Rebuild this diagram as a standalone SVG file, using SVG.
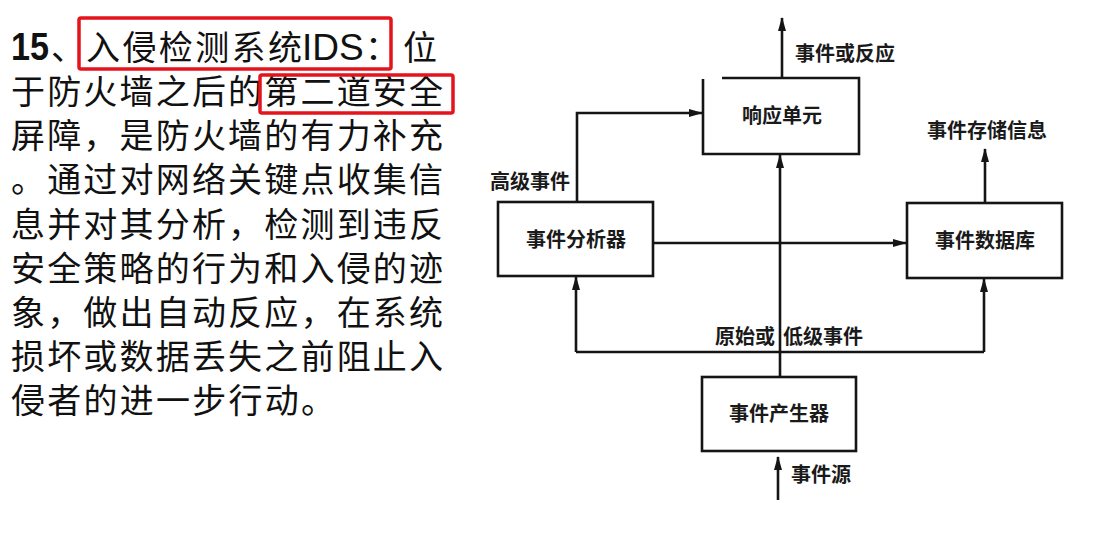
<svg xmlns="http://www.w3.org/2000/svg" width="1099" height="533" viewBox="0 0 1099 533">
<style>
.body{font-family:"Noto Sans CJK SC","Noto Sans",sans-serif;font-size:34px;fill:#111;}
.lat{font-family:"Liberation Sans",Arial,sans-serif;font-size:37px;}
.num{font-family:"Liberation Sans",Arial,sans-serif;font-size:38px;font-weight:bold;}
.lbl{font-family:"Noto Sans CJK SC","Noto Sans",sans-serif;font-size:20px;font-weight:700;fill:#1a1a1a;}
.mid{text-anchor:middle;}
.box{fill:none;stroke:#151515;stroke-width:2.6;}
.ln{fill:none;stroke:#151515;stroke-width:2.6;}
.hl{fill:none;stroke:#e3141c;stroke-width:3.5;}
</style>
<defs>
<marker id="ah" markerUnits="userSpaceOnUse" markerWidth="14" markerHeight="9" refX="13" refY="4.5" orient="auto">
<path d="M0,0.5 L14,4.5 L0,8.5 z" fill="#151515"/>
</marker>
</defs>
<rect width="1099" height="533" fill="#ffffff"/>

<g id="description">
<text class="body" y="60"><tspan x="11" class="num" textLength="38" lengthAdjust="spacingAndGlyphs">15</tspan><tspan x="51">、</tspan><tspan x="86" textLength="216" lengthAdjust="spacing">入侵检测系统</tspan><tspan x="302" class="lat">IDS</tspan><tspan x="365">：</tspan><tspan x="403">位</tspan></text>
<text class="body" x="11" y="104" textLength="432" lengthAdjust="spacing">于防火墙之后的第二道安全</text>
<text class="body" x="11" y="148" textLength="432" lengthAdjust="spacing">屏障，是防火墙的有力补充</text>
<text class="body" x="11" y="192" textLength="432" lengthAdjust="spacing">。通过对网络关键点收集信</text>
<text class="body" x="11" y="237" textLength="432" lengthAdjust="spacing">息并对其分析，检测到违反</text>
<text class="body" x="11" y="281" textLength="432" lengthAdjust="spacing">安全策略的行为和入侵的迹</text>
<text class="body" x="11" y="325" textLength="432" lengthAdjust="spacing">象，做出自动反应，在系统</text>
<text class="body" x="11" y="369" textLength="432" lengthAdjust="spacing">损坏或数据丢失之前阻止入</text>
<text class="body" x="11" y="413" textLength="324" lengthAdjust="spacing">侵者的进一步行动。</text>
<rect class="hl" x="79" y="18" width="312" height="51" rx="2"/>
<rect class="hl" x="260" y="75" width="193" height="38" rx="2"/>
</g>

<g id="connectors">
<line class="ln" x1="782" y1="78" x2="782" y2="18" marker-end="url(#ah)"/>
<polyline class="ln" points="577,202 577,113 702,113" marker-end="url(#ah)"/>
<line class="ln" x1="653" y1="243" x2="906" y2="243" marker-end="url(#ah)"/>
<line class="ln" x1="985" y1="203" x2="985" y2="149" marker-end="url(#ah)"/>
<line class="ln" x1="780" y1="377" x2="780" y2="155" marker-end="url(#ah)"/>
<line class="ln" x1="576" y1="352" x2="984" y2="352"/>
<line class="ln" x1="576" y1="352" x2="576" y2="277" marker-end="url(#ah)"/>
<line class="ln" x1="984" y1="352" x2="984" y2="279" marker-end="url(#ah)"/>
<line class="ln" x1="778" y1="500" x2="778" y2="457" marker-end="url(#ah)"/>
<text class="lbl" x="795" y="61">事件或反应</text>
<text class="lbl" x="490" y="189">高级事件</text>
<text class="lbl mid" x="987" y="138">事件存储信息</text>
<text class="lbl" x="715" y="344">原始或</text>
<text class="lbl" x="783" y="344">低级事件</text>
<text class="lbl" x="791" y="482">事件源</text>
</g>

<g id="response-unit">
<path class="box" d="M703,79 V154 H859 V78 H722"/>
<text class="lbl mid" x="782" y="123">响应单元</text>
</g>

<g id="event-analyzer">
<rect class="box" x="498" y="202" width="155" height="74"/>
<text class="lbl mid" x="576" y="247">事件分析器</text>
</g>

<g id="event-database">
<rect class="box" x="907" y="203" width="155" height="75"/>
<text class="lbl mid" x="985" y="248">事件数据库</text>
</g>

<g id="event-generator">
<rect class="box" x="702" y="377" width="154" height="74"/>
<text class="lbl mid" x="779" y="421">事件产生器</text>
</g>
</svg>
